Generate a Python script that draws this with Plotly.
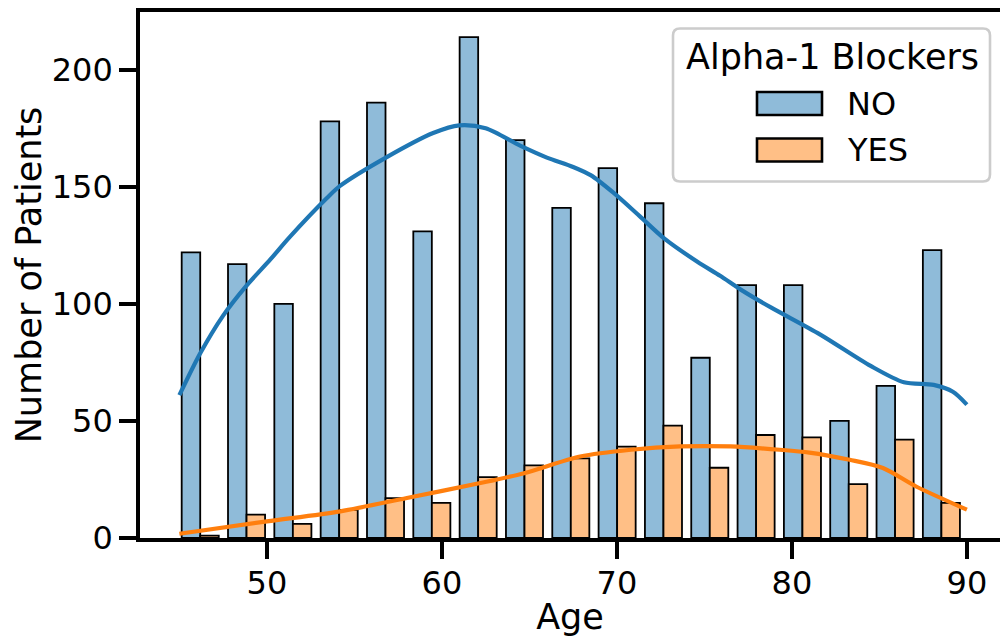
import numpy as np
import plotly.graph_objects as go

# ---- data ----
age_min, age_max, n_bins = 45, 90, 17
hue_levels = ["NO", "YES"]
counts_no = [122, 117, 100, 178, 186, 131, 214, 170, 141, 158, 143, 77, 108, 108, 50, 65, 123]
counts_yes = [1, 10, 6, 12, 17, 15, 26, 31, 34, 39, 48, 30, 44, 43, 23, 42, 15]

kde_no_x = [45, 46.2, 47.5, 48.8, 50.2, 51.3, 53.4, 54.2, 56.8, 59.5, 61.0, 62.5, 64.5, 66.0,
            67.5, 68.5, 69.8, 71.3, 72.7, 74.6, 75.9, 77.1, 78.8, 81.6, 84.5, 86.4, 88.1, 89.2, 90]
kde_no_y = [61, 79, 95, 107.5, 119, 128.5, 145, 150.5, 162.5, 173, 176.3, 175, 167.5, 162.5,
            158.5, 155, 147.5, 137.5, 128, 118, 112, 106, 98.5, 87, 73.5, 66.5, 65.4, 62.5, 57]
kde_yes_x = [45, 50, 54.2, 58, 62.2, 64.7, 67.9, 70.8, 73.6, 76.5, 79.3, 81, 83.3, 85.2, 87.1, 90]
kde_yes_y = [1.8, 7.1, 11.4, 17.1, 23.5, 27.7, 34.8, 37.7, 39.1, 39.1, 37.7, 36.5, 33.4, 29.9, 22, 12.1]

x_ticks = [50, 60, 70, 80, 90]
y_ticks = [0, 50, 100, 150, 200]

# ---- styling ----
line_colors = ["#1f77b4", "#ff7f0e"]
fill_colors = ["#8fbbd9", "#ffbf86"]
FONT = "DejaVu Sans"

W, H = 1000, 637
ML, MR, MT, MB = 140, 0, 12, 99
plot_w, plot_h = W - ML - MR, H - MT - MB

edges = np.linspace(age_min, age_max, n_bins + 1)[:-1]
bw = (age_max - age_min) / n_bins
shrink = 0.8
sub_w = bw * shrink / 2

fig = go.Figure()
for i, (lvl, cnts) in enumerate(zip(hue_levels, [counts_no, counts_yes])):
    fig.add_trace(go.Bar(
        x=edges, y=cnts, name=lvl,
        offset=bw * (1 - shrink) / 4 + i * sub_w, width=sub_w,
        marker=dict(color=fill_colors[i], line=dict(color="black", width=1.8)),
        showlegend=False,
    ))
for i, (kx, ky) in enumerate([(kde_no_x, kde_no_y), (kde_yes_x, kde_yes_y)]):
    fig.add_trace(go.Scatter(
        x=kx, y=ky, mode="lines", name=hue_levels[i] + " KDE",
        line=dict(color=line_colors[i], width=4.2, shape="spline", smoothing=0.8),
        showlegend=False,
    ))

x_lo = age_min - 0.05 * (age_max - age_min)
px_per_unit = 17.5
x_hi = x_lo + plot_w / px_per_unit
y_hi = max(counts_no) * 1.05

axis_common = dict(
    showgrid=False, zeroline=False, showline=True, linecolor="black", linewidth=3.6,
    ticks="outside", ticklen=17, tickwidth=3.6, tickcolor="black",
    tickfont=dict(family=FONT, size=32, color="black"),
)
fig.update_xaxes(range=[x_lo, x_hi], tickvals=x_ticks, mirror=True, ticklabelstandoff=-3,
                 title=dict(text="Age", font=dict(family=FONT, size=35, color="black"), standoff=0),
                 **axis_common)
fig.update_yaxes(range=[0, y_hi], tickvals=y_ticks,
                 title=dict(text="Number of Patients", font=dict(family=FONT, size=35, color="black"), standoff=0),
                 **axis_common)


# ---- custom legend (pixel -> paper helpers) ----
def px(xp):
    return (xp - ML) / plot_w


def py(yp):
    return (H - MB - yp) / plot_h


def rounded_rect(x0, y0, x1, y1, r):
    rx, ry = r / plot_w, r / plot_h
    X0, X1 = px(x0), px(x1)
    Y0, Y1 = py(y0), py(y1)  # Y0 top, Y1 bottom
    return (f"M {X0+rx},{Y0} L {X1-rx},{Y0} Q {X1},{Y0} {X1},{Y0-ry} "
            f"L {X1},{Y1+ry} Q {X1},{Y1} {X1-rx},{Y1} L {X0+rx},{Y1} "
            f"Q {X0},{Y1} {X0},{Y1+ry} L {X0},{Y0-ry} Q {X0},{Y0} {X0+rx},{Y0} Z")


shapes = [dict(type="path", xref="paper", yref="paper",
               path=rounded_rect(673, 28.5, 990, 181.5, 7),
               line=dict(color="#cccccc", width=2.6), fillcolor="rgba(255,255,255,0.8)", layer="above")]
annotations = [dict(text="Alpha-1 Blockers", xref="paper", yref="paper", x=px(832), y=py(57),
                    xanchor="center", yanchor="middle", showarrow=False,
                    font=dict(family=FONT, size=35, color="black"))]
row_y = [103.5, 150]
for i, lvl in enumerate(hue_levels):
    shapes.append(dict(type="rect", xref="paper", yref="paper",
                       x0=px(757), x1=px(822), y0=py(row_y[i] - 11.5), y1=py(row_y[i] + 11.5),
                       fillcolor=fill_colors[i], line=dict(color="black", width=2.6), layer="above"))
    annotations.append(dict(text=lvl, xref="paper", yref="paper", x=px(845), y=py(row_y[i]),
                            xanchor="left", yanchor="middle", showarrow=False,
                            font=dict(family=FONT, size=32, color="black")))

fig.update_layout(
    width=W, height=H, barmode="overlay",
    margin=dict(l=ML, r=MR, t=MT, b=MB, autoexpand=False),
    plot_bgcolor="white", paper_bgcolor="white",
    font=dict(family=FONT, color="black"),
    shapes=shapes, annotations=annotations,
)

fig.write_html("out.html", config={"displayModeBar": False},
               post_script="document.body.style.margin='0px';document.body.style.overflow='hidden';")
